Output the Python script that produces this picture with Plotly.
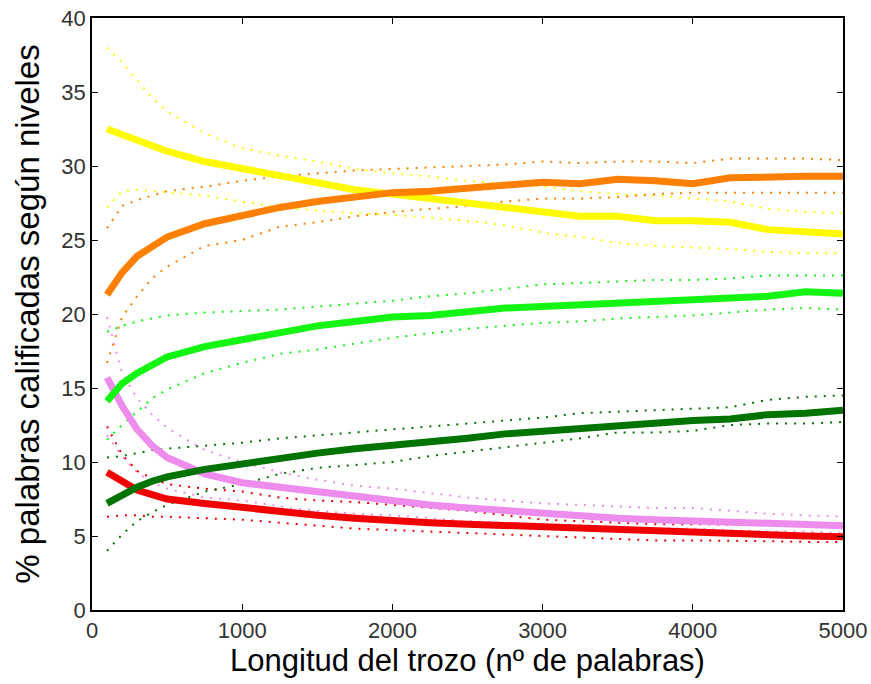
import plotly.graph_objects as go

x = [100, 200, 300, 400, 500, 750, 1000, 1250, 1500, 1750, 2000, 2250, 2500,
     2750, 3000, 3250, 3500, 3750, 4000, 4250, 4500, 4750, 5000]

yellow_mean = [32.5, 32.1, 31.7, 31.3, 31.0, 30.3, 29.8, 29.3, 28.8, 28.4, 28.1, 27.8, 27.5,
               27.3, 26.9, 26.6, 26.6, 26.3, 26.3, 26.2, 25.7, 25.5, 25.4]
yellow_hi = [38.0, 37.0, 35.8, 34.6, 33.7, 32.2, 31.2, 30.7, 30.3, 29.8, 29.5, 29.3, 29.0,
             28.8, 28.6, 28.3, 28.1, 28.0, 27.8, 27.6, 27.1, 26.9, 26.8]
yellow_lo = [27.2, 28.3, 28.4, 28.3, 28.2, 28.0, 27.6, 27.2, 27.0, 26.8, 26.7, 26.5, 26.3,
             26.0, 25.5, 25.2, 24.8, 24.6, 24.5, 24.4, 24.2, 24.1, 24.1]

orange_mean = [21.3, 22.8, 23.9, 24.6, 25.2, 26.1, 26.7, 27.2, 27.6, 27.9, 28.2, 28.3, 28.5,
               28.7, 28.9, 28.8, 29.1, 29.0, 28.8, 29.2, 29.3, 29.3, 29.3]
orange_hi = [25.8, 27.3, 27.7, 28.0, 28.3, 28.6, 29.0, 29.3, 29.5, 29.7, 29.8, 29.9, 30.0,
             30.1, 30.3, 30.2, 30.3, 30.3, 30.2, 30.5, 30.5, 30.5, 30.4]
orange_lo = [16.7, 19.8, 21.2, 22.4, 23.2, 24.6, 25.0, 25.9, 26.2, 26.6, 26.9, 27.1, 27.3,
             27.6, 27.8, 27.8, 27.9, 28.1, 28.2, 28.2, 28.2, 28.2, 28.2]

lime_mean = [14.1, 15.3, 16.0, 16.6, 17.1, 17.8, 18.3, 18.8, 19.2, 19.5, 19.8, 19.9, 20.2,
             20.4, 20.5, 20.6, 20.7, 20.8, 20.9, 21.0, 21.2, 21.5, 21.4]
lime_hi = [18.8, 19.2, 19.5, 19.7, 19.9, 20.1, 20.2, 20.3, 20.5, 20.7, 20.9, 21.2, 21.4,
           21.7, 22.0, 22.1, 22.2, 22.3, 22.3, 22.4, 22.6, 22.6, 22.6]
lime_lo = [11.5, 12.5, 13.4, 14.3, 14.9, 16.0, 16.7, 17.3, 17.6, 18.0, 18.4, 18.7, 19.0,
           19.2, 19.4, 19.5, 19.7, 19.8, 19.9, 20.1, 20.3, 20.4, 20.3]

dkgreen_mean = [7.2, 7.8, 8.3, 8.7, 9.0, 9.5, 9.9, 10.3, 10.6, 10.9, 11.1, 11.4, 11.6,
                11.9, 12.1, 12.3, 12.5, 12.6, 12.8, 12.9, 13.2, 13.3, 13.5]
dkgreen_hi = [10.3, 10.4, 10.6, 10.8, 10.9, 11.1, 11.3, 11.6, 11.8, 12.0, 12.2, 12.4, 12.6,
              12.8, 13.0, 13.3, 13.4, 13.5, 13.6, 13.7, 14.2, 14.4, 14.5]
dkgreen_lo = [4.0, 5.1, 6.0, 6.6, 7.1, 8.0, 8.5, 9.2, 9.6, 9.8, 10.0, 10.4, 10.7,
              11.0, 11.3, 11.6, 12.0, 12.0, 12.1, 12.5, 12.6, 12.6, 12.7]

violet_mean = [15.7, 13.8, 12.2, 11.1, 10.3, 9.2, 8.6, 8.3, 8.0, 7.6, 7.3, 7.1, 6.9,
               6.7, 6.5, 6.4, 6.2, 6.1, 6.0, 5.9, 5.8, 5.7, 5.7]
violet_hi = [19.8, 16.0, 14.3, 13.2, 12.3, 10.8, 10.0, 9.3, 8.8, 8.4, 8.2, 7.9, 7.6,
             7.4, 7.2, 7.1, 7.0, 6.9, 6.9, 6.7, 6.5, 6.4, 6.3]
violet_lo = [11.8, 10.4, 9.3, 8.6, 8.2, 7.6, 7.4, 7.0, 6.7, 6.5, 6.4, 6.2, 6.0,
             5.9, 5.8, 5.7, 5.6, 5.5, 5.5, 5.4, 5.3, 5.3, 5.2]

red_mean = [9.3, 8.7, 8.1, 7.8, 7.5, 7.2, 6.9, 6.6, 6.4, 6.2, 6.0, 5.9, 5.8,
            5.7, 5.6, 5.5, 5.4, 5.35, 5.3, 5.2, 5.1, 5.0, 4.95]
red_hi = [12.4, 10.5, 9.4, 8.9, 8.5, 8.2, 8.0, 7.6, 7.4, 7.3, 7.1, 6.9, 6.7,
          6.4, 6.1, 6.0, 5.9, 5.8, 5.8, 5.75, 5.7, 5.7, 5.7]
red_lo = [6.3, 6.4, 6.4, 6.3, 6.3, 6.2, 6.1, 5.9, 5.7, 5.5, 5.4, 5.3, 5.2,
          5.1, 5.0, 4.9, 4.75, 4.7, 4.7, 4.7, 4.65, 4.6, 4.6]

x_ticks = [0, 1000, 2000, 3000, 4000, 5000]
y_ticks = [0, 5, 10, 15, 20, 25, 30, 35, 40]

series = [
    ("yellow", "rgb(255,250,0)", yellow_mean, yellow_hi, yellow_lo),
    ("violet", "rgb(238,140,238)", violet_mean, violet_hi, violet_lo),
    ("red", "rgb(240,0,0)", red_mean, red_hi, red_lo),
    ("lime", "rgb(20,245,20)", lime_mean, lime_hi, lime_lo),
    ("orange", "rgb(255,128,0)", orange_mean, orange_hi, orange_lo),
    ("dkgreen", "rgb(0,115,0)", dkgreen_mean, dkgreen_hi, dkgreen_lo),
]

fig = go.Figure()
for name, col, m, hi, lo in series:
    for band in (hi, lo):
        fig.add_trace(go.Scatter(x=x, y=band, mode="lines", showlegend=False,
                                 line=dict(color=col, width=2, dash="2px,7px")))
for name, col, m, hi, lo in series:
    fig.add_trace(go.Scatter(x=x, y=m, mode="lines", showlegend=False,
                             line=dict(color=col, width=7)))

axis_common = dict(showline=True, linecolor="black", linewidth=1.5, mirror="ticks",
                   ticks="inside", ticklen=6, tickcolor="black", showgrid=False,
                   zeroline=False, automargin=False,
                   tickfont=dict(family="Liberation Sans", size=22, color="#333"))

fig.update_xaxes(range=[0, 5000], tickvals=x_ticks, ticktext=[str(v) for v in x_ticks],
                 title=dict(text="Longitud del trozo (nº de palabras)",
                            font=dict(family="Liberation Sans", size=31, color="black"),
                            standoff=4),
                 **axis_common)
fig.update_yaxes(range=[0, 40], tickvals=y_ticks, ticktext=[str(v) for v in y_ticks],
                 title=dict(text="% palabras calificadas según niveles",
                            font=dict(family="Liberation Sans", size=33, color="black"),
                            standoff=12),
                 **axis_common)

fig.update_layout(width=871, height=684, margin=dict(l=92, r=28, t=18, b=74),
                  plot_bgcolor="white", paper_bgcolor="white")

fig.write_html("out.html")
